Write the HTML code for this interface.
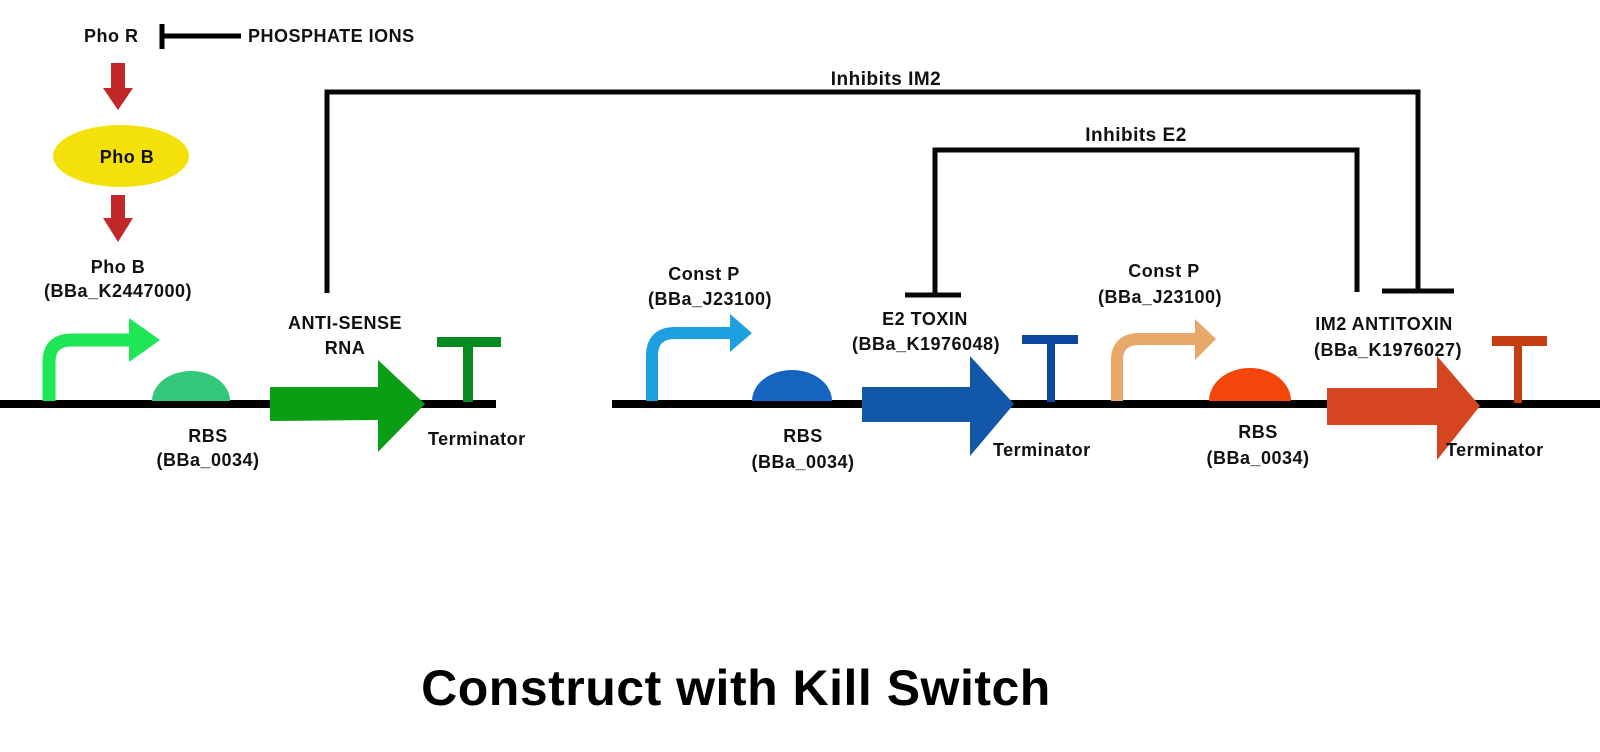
<!DOCTYPE html>
<html><head><style>
html,body{margin:0;padding:0;background:#fff;}
svg{display:block;}
text{font-family:"Liberation Sans",sans-serif;font-weight:bold;fill:#111;letter-spacing:0.5px;}
</style></head><body>
<svg width="1600" height="752" viewBox="0 0 1600 752" xmlns="http://www.w3.org/2000/svg">
<text x="84" y="42" font-size="18">Pho R</text>
<line x1="162" y1="24" x2="162" y2="49" stroke="#000" stroke-width="5"/>
<line x1="162" y1="36" x2="241" y2="36" stroke="#000" stroke-width="5"/>
<text x="248" y="42" font-size="18">PHOSPHATE IONS</text>
<rect x="111" y="63" width="14" height="26" fill="#c0282a"/>
<polygon points="103,88 133,88 118,110" fill="#c0282a"/>
<ellipse cx="121" cy="156" rx="68" ry="31" fill="#f5e10a"/>
<text x="127" y="163" font-size="18" text-anchor="middle">Pho B</text>
<rect x="111" y="195" width="14" height="24" fill="#c0282a"/>
<polygon points="103,218 133,218 118,242" fill="#c0282a"/>
<text x="118" y="273" font-size="18" text-anchor="middle">Pho B</text>
<text x="118" y="297" font-size="18" text-anchor="middle">(BBa_K2447000)</text>

<polyline points="327,293 327,92 1418,92 1418,290" fill="none" stroke="#0a0508" stroke-width="5"/>
<line x1="1382" y1="291" x2="1454" y2="291" stroke="#0a0508" stroke-width="5"/>
<text x="886" y="85" font-size="19" text-anchor="middle">Inhibits IM2</text>
<polyline points="935,295 935,150 1357,150 1357,292" fill="none" stroke="#0a0508" stroke-width="5"/>
<line x1="905" y1="295" x2="961" y2="295" stroke="#0a0508" stroke-width="5"/>
<text x="1136" y="141" font-size="19" text-anchor="middle">Inhibits E2</text>

<line x1="0" y1="404" x2="496" y2="404" stroke="#000" stroke-width="8"/>
<path d="M49,401 V362 Q49,340 72,340 H132" fill="none" stroke="#1ee655" stroke-width="13"/>
<polygon points="129,318 160,340 129,362" fill="#1ee655"/>
<path d="M152,401 A39,30 0 0 1 230,401 Z" fill="#33c77a"/>
<polygon points="270,387 378,387 378,360 425,404 378,452 378,420 270,421" fill="#0a9e14"/>
<rect x="437" y="337" width="64" height="10" fill="#078a1f"/>
<rect x="463" y="346" width="10" height="56" fill="#078a1f"/>
<text x="208" y="442" font-size="18" text-anchor="middle">RBS</text>
<text x="208" y="466" font-size="18" text-anchor="middle">(BBa_0034)</text>
<text x="345" y="329" font-size="18" text-anchor="middle">ANTI-SENSE</text>
<text x="345" y="354" font-size="18" text-anchor="middle">RNA</text>
<text x="428" y="445" font-size="18">Terminator</text>

<line x1="612" y1="404" x2="1600" y2="404" stroke="#000" stroke-width="8"/>
<path d="M652,401 V356 Q652,333 675,333 H733" fill="none" stroke="#1ea0e0" stroke-width="12"/>
<polygon points="730,314 752,333 730,352" fill="#1ea0e0"/>
<path d="M752,401 A40,31 0 0 1 832,401 Z" fill="#1565c0"/>
<polygon points="862,387 970,387 970,356 1014,404 970,456 970,422 862,422" fill="#1257a8"/>
<rect x="1022" y="335" width="56" height="9" fill="#0d47a1"/>
<rect x="1047" y="343" width="8" height="59" fill="#0d47a1"/>
<text x="704" y="280" font-size="18" text-anchor="middle">Const P</text>
<text x="710" y="305" font-size="18" text-anchor="middle">(BBa_J23100)</text>
<text x="803" y="442" font-size="18" text-anchor="middle">RBS</text>
<text x="803" y="468" font-size="18" text-anchor="middle">(BBa_0034)</text>
<text x="925" y="325" font-size="18" text-anchor="middle">E2 TOXIN</text>
<text x="926" y="350" font-size="18" text-anchor="middle">(BBa_K1976048)</text>
<text x="993" y="456" font-size="18">Terminator</text>

<path d="M1117,401 V360 Q1117,339 1140,339 H1198" fill="none" stroke="#e8a86a" stroke-width="12"/>
<polygon points="1195,319 1216,339 1195,360" fill="#e8a86a"/>
<path d="M1209,401 A41,33 0 0 1 1291,401 Z" fill="#f4460a"/>
<polygon points="1327,388 1437,388 1437,356 1480,406 1437,460 1437,425 1327,425" fill="#d44520"/>
<rect x="1492" y="336" width="55" height="10" fill="#c63d12"/>
<rect x="1514" y="345" width="8" height="58" fill="#c63d12"/>
<text x="1164" y="277" font-size="18" text-anchor="middle">Const P</text>
<text x="1160" y="303" font-size="18" text-anchor="middle">(BBa_J23100)</text>
<text x="1258" y="438" font-size="18" text-anchor="middle">RBS</text>
<text x="1258" y="464" font-size="18" text-anchor="middle">(BBa_0034)</text>
<text x="1384" y="330" font-size="18" text-anchor="middle">IM2 ANTITOXIN</text>
<text x="1388" y="356" font-size="18" text-anchor="middle">(BBa_K1976027)</text>
<text x="1446" y="456" font-size="18">Terminator</text>

<text x="736" y="705" font-size="50" text-anchor="middle" style="fill:#000;letter-spacing:0.5px">Construct with Kill Switch</text>
</svg>
</body></html>
